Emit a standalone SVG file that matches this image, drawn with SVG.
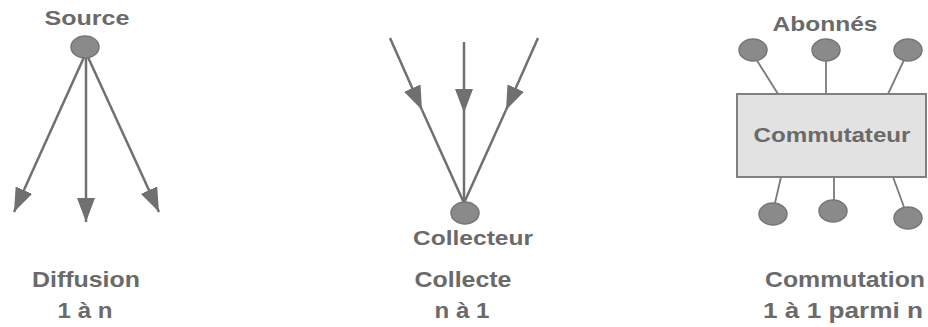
<svg xmlns="http://www.w3.org/2000/svg" width="928" height="327" viewBox="0 0 928 327">
  <defs>
    <style>
      .lbl { font-family: "Liberation Sans", Arial, sans-serif; font-weight: bold; fill: #6a6a6a; text-anchor: middle; }
      .top { font-size: 21px; }
      .cap { font-size: 22px; }
      .dot { fill: #8a8a8a; stroke: #767676; stroke-width: 1.5; }
      .wire { stroke: #707070; stroke-width: 2.5; fill: none; }
      .thin { stroke: #7a7a7a; stroke-width: 1.8; fill: none; }
      .box { fill: #e2e2e2; stroke: #808080; stroke-width: 2; }
    </style>
    <marker id="arrow" viewBox="0 0 24 18" refX="24" refY="9" markerWidth="24" markerHeight="18" markerUnits="userSpaceOnUse" orient="auto">
      <path d="M0,0 L24,9 L0,18 Z" fill="#707070"/>
    </marker>
  </defs>

  <!-- connectors -->
  <g id="connectors">
    <!-- broadcast: source to n destinations -->
    <line class="wire" x1="85" y1="55" x2="14" y2="212" marker-end="url(#arrow)"/>
    <line class="wire" x1="86" y1="57" x2="86" y2="222" marker-end="url(#arrow)"/>
    <line class="wire" x1="87" y1="55" x2="159" y2="212" marker-end="url(#arrow)"/>

    <!-- collection: n sources to one collector, arrowheads mid-way -->
    <line class="wire" x1="390" y1="38" x2="422" y2="110" marker-end="url(#arrow)"/>
    <line class="wire" x1="422" y1="110" x2="464" y2="203"/>
    <line class="wire" x1="464" y1="42" x2="464" y2="113" marker-end="url(#arrow)"/>
    <line class="wire" x1="464" y1="113" x2="464" y2="203"/>
    <line class="wire" x1="538" y1="38" x2="506" y2="110" marker-end="url(#arrow)"/>
    <line class="wire" x1="506" y1="110" x2="464" y2="203"/>

    <!-- switch: subscribers to switch -->
    <line class="thin" x1="756" y1="59" x2="778" y2="94"/>
    <line class="thin" x1="826" y1="61" x2="826" y2="94"/>
    <line class="thin" x1="904" y1="60" x2="888" y2="94"/>
    <line class="thin" x1="781" y1="177" x2="775" y2="203"/>
    <line class="thin" x1="834" y1="177" x2="834" y2="200"/>
    <line class="thin" x1="893" y1="177" x2="904" y2="207"/>
  </g>

  <!-- broadcast -->
  <g id="source">
    <ellipse class="dot" cx="85" cy="47" rx="14" ry="11"/>
    <text class="lbl top" x="87" y="25" textLength="85" lengthAdjust="spacingAndGlyphs">Source</text>
  </g>
  <g id="diffusion-caption">
    <text class="lbl cap" x="86" y="287" textLength="108" lengthAdjust="spacingAndGlyphs">Diffusion</text>
    <text class="lbl cap" x="85" y="318" textLength="55" lengthAdjust="spacingAndGlyphs">1 à n</text>
  </g>

  <!-- collection -->
  <g id="collecteur">
    <ellipse class="dot" cx="465" cy="213" rx="14" ry="11"/>
    <text class="lbl top" x="473" y="245" textLength="120" lengthAdjust="spacingAndGlyphs">Collecteur</text>
  </g>
  <g id="collecte-caption">
    <text class="lbl cap" x="463" y="287" textLength="97" lengthAdjust="spacingAndGlyphs">Collecte</text>
    <text class="lbl cap" x="462" y="318" textLength="55" lengthAdjust="spacingAndGlyphs">n à 1</text>
  </g>

  <!-- switching -->
  <g id="abonnes">
    <text class="lbl top" x="825" y="31" textLength="105" lengthAdjust="spacingAndGlyphs">Abonnés</text>
    <ellipse class="dot" cx="753" cy="50" rx="14" ry="11"/>
    <ellipse class="dot" cx="826" cy="50" rx="14" ry="11"/>
    <ellipse class="dot" cx="908" cy="50" rx="14" ry="11"/>
    <ellipse class="dot" cx="773" cy="214" rx="14" ry="11"/>
    <ellipse class="dot" cx="833" cy="211" rx="14" ry="11"/>
    <ellipse class="dot" cx="908" cy="218" rx="14" ry="11"/>
  </g>
  <g id="commutateur">
    <rect class="box" x="737" y="94" width="189" height="83"/>
    <text class="lbl top" x="832" y="142" textLength="157" lengthAdjust="spacingAndGlyphs">Commutateur</text>
  </g>
  <g id="commutation-caption">
    <text class="lbl cap" x="845" y="287" textLength="160" lengthAdjust="spacingAndGlyphs">Commutation</text>
    <text class="lbl cap" x="843" y="318" textLength="160" lengthAdjust="spacingAndGlyphs">1 à 1 parmi n</text>
  </g>
</svg>
